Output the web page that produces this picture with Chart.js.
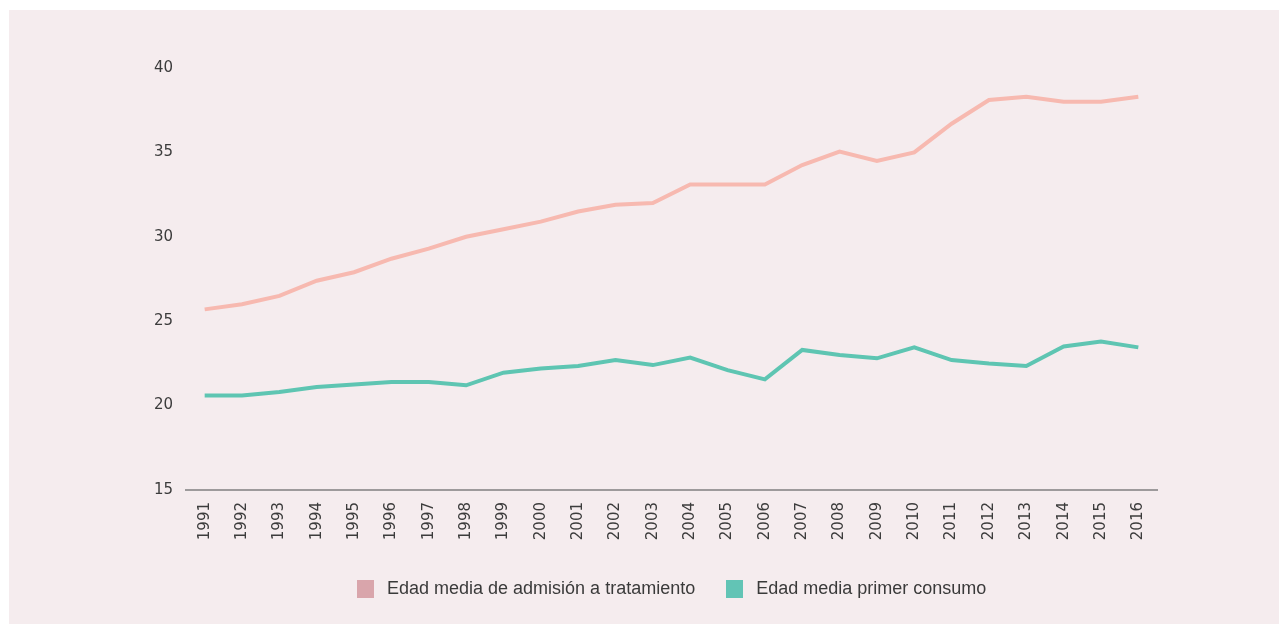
<!DOCTYPE html>
<html>
<head>
<meta charset="utf-8">
<script src="https://cdn.jsdelivr.net/npm/chart.js@4"></script>
<style>
  body { margin: 0; background: #ffffff; }
  #panel {
    position: absolute;
    left: 9px;
    top: 10px;
    width: 1270px;
    height: 614px;
    background: #f5ecee;
  }
  #chart { position: absolute; left: 0; top: 0; }
  #legend {
    position: absolute;
    left: 348px;
    top: 568px;
    display: flex;
    align-items: center;
    font-family: "Liberation Sans", sans-serif;
    font-size: 18px;
    color: #3a3a3a;
    white-space: nowrap;
  }
  .item { display: flex; align-items: center; margin-right: 31px; }
  .box { width: 17px; height: 18px; margin-right: 13px; }
</style>
</head>
<body>
<div id="panel">
  <canvas id="chart" width="1270" height="614"></canvas>
  <div id="legend"></div>
</div>
<script>
const years = [
  "1991", "1992", "1993", "1994", "1995", "1996", "1997", "1998", "1999",
  "2000", "2001", "2002", "2003", "2004", "2005", "2006", "2007", "2008",
  "2009", "2010", "2011", "2012", "2013", "2014", "2015", "2016"
];

const admisionTratamiento = [
  25.7, 26.0, 26.5, 27.4, 27.9, 28.7, 29.3, 30.0, 30.45,
  30.9, 31.5, 31.9, 32.0, 33.1, 33.1, 33.1, 34.25, 35.05,
  34.5, 35.0, 36.7, 38.1, 38.3, 38.0, 38.0, 38.3
];

const primerConsumo = [
  20.6, 20.6, 20.8, 21.1, 21.25, 21.4, 21.4, 21.2, 21.95,
  22.2, 22.35, 22.7, 22.4, 22.85, 22.1, 21.55, 23.3, 23.0,
  22.8, 23.45, 22.7, 22.5, 22.35, 23.5, 23.8, 23.45
];

const seriesNames = [
  "Edad media de admisión a tratamiento",
  "Edad media primer consumo"
];

const yTicks = [15, 20, 25, 30, 35, 40];

const lineColors = ["#f7b9b0", "#5ec5b2"];
const legendColors = ["#d9a5ab", "#62c4b5"];

// legend drawn as html below the canvas
const legend = document.getElementById("legend");
seriesNames.forEach((name, i) => {
  legend.innerHTML += `
    <div class="item">
      <div class="box" style="background:${legendColors[i]}"></div>
      <span>${name}</span>
    </div>
  `;
});

const ctx = document.getElementById("chart").getContext("2d");

new Chart(ctx, {
  type: "line",
  data: {
    labels: years,
    datasets: [
      {
        label: seriesNames[0],
        data: admisionTratamiento,
        borderColor: lineColors[0],
        borderWidth: 4,
        pointRadius: 0,
        tension: 0
      },
      {
        label: seriesNames[1],
        data: primerConsumo,
        borderColor: lineColors[1],
        borderWidth: 4,
        pointRadius: 0,
        tension: 0
      }
    ]
  },
  options: {
    responsive: false,
    animation: false,
    layout: {
      padding: { top: 58, right: 122, bottom: 52, left: 0 }
    },
    scales: {
      x: {
        offset: true,
        grid: { display: false, drawTicks: false },
        border: { display: true, color: "#9d9a9b", width: 2 },
        ticks: {
          color: "#3c3c3c",
          font: { family: "DejaVu Sans", size: 15 },
          minRotation: 90,
          maxRotation: 90,
          padding: 12,
          autoSkip: false
        },
        afterFit: scale => {
          scale.height = 82;
        }
      },
      y: {
        min: yTicks[0],
        max: yTicks[yTicks.length - 1],
        grid: { display: false, drawTicks: false },
        border: { display: false },
        afterBuildTicks: scale => {
          scale.ticks = yTicks.map(v => ({ value: v }));
        },
        ticks: {
          color: "#3c3c3c",
          font: { family: "DejaVu Sans", size: 15 },
          padding: 13
        },
        afterFit: scale => {
          scale.width = 177;
        }
      }
    },
    plugins: {
      tooltip: { enabled: false },
      legend: { display: false }
    }
  }
});
</script>
</body>
</html>
